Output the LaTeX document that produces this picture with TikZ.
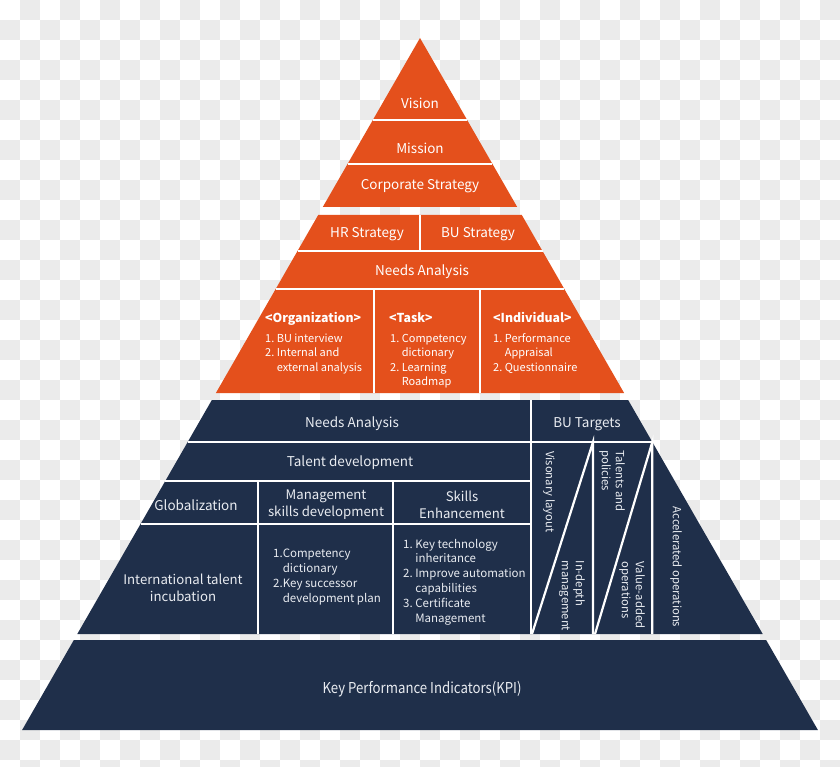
\documentclass[tikz,border=0pt]{standalone}
\usepackage{fontspec}
\setmainfont{Noto Sans CJK SC}
\definecolor{org}{HTML}{E4501C}
\definecolor{nav}{HTML}{1F2F4A}
\definecolor{chk}{HTML}{EBEBEB}
\definecolor{ntext}{HTML}{E9ECF1}
\tikzset{
  sepline/.style={white, line width=2.2pt},
  otext/.style={text=white, inner sep=0pt, font=\fontsize{13.5}{17}\selectfont},
  ohead/.style={text=white, inner sep=0pt, anchor=base west, font=\fontsize{12.3}{15}\selectfont\bfseries},
  olist/.style={text=white, inner sep=0pt, anchor=base west, align=left, font=\fontsize{11}{14.5}\selectfont},
  ntxt/.style={text=ntext, inner sep=0pt, align=center, font=\fontsize{13.5}{17}\selectfont},
  nsub/.style={text=ntext, inner sep=0pt, align=center, font=\fontsize{13.2}{17}\selectfont},
  nlist/.style={text=ntext, inner sep=0pt, anchor=base west, align=left, font=\fontsize{11.5}{14.8}\selectfont},
  nrot/.style={text=ntext, inner sep=0pt, rotate=-90, align=left, font=\fontsize{11.3}{14}\selectfont},
  kpitext/.style={text=ntext, inner sep=0pt, xscale=0.88, font=\fontsize{15}{18}\selectfont},
}
\begin{document}
\begin{tikzpicture}[x=1pt,y=-1pt]
\clip (0,0) rectangle (840,767);
\fill[white] (0,0) rectangle (840,767);
\foreach \i in {0,...,41}{
  \foreach \j in {0,...,38}{
    \pgfmathtruncatemacro\p{mod(\i+\j,2)}
    \ifnum\p=1 \fill[chk] (\i*20,\j*20) rectangle ++(20,20); \fi
  }
}
% ---------- orange top triangle ----------
\fill[org] (420,38) -- (517.2,207) -- (322.8,207) -- cycle;
\draw[sepline] (372.85,120) -- (467.15,120);
\draw[sepline] (347.55,164) -- (492.45,164);
% ---------- orange second block ----------
\fill[org] (318.2,215) -- (521.8,215) -- (624.1,393) -- (215.9,393) -- cycle;
\draw[sepline] (297.5,251) -- (542.5,251);
\draw[sepline] (275.7,289) -- (564.3,289);
\draw[sepline] (420,215) -- (420,251);
\draw[sepline] (374,289) -- (374,393);
\draw[sepline] (480,289) -- (480,393);
% ---------- navy block ----------
\fill[nav] (211.85,400) -- (628.15,400) -- (762.7,634) -- (77.3,634) -- cycle;
\draw[sepline] (187.7,442) -- (652.3,442);
\draw[sepline] (165.3,481) -- (531,481);
\draw[sepline] (140.55,524) -- (531,524);
\draw[sepline] (531,400) -- (531,634);
\draw[sepline] (258,481) -- (258,634);
\draw[sepline] (393,481) -- (393,634);
\draw[sepline] (532,634) -- (593,442) -- (593,634);
\draw[sepline] (595,634) -- (652.3,442) -- (652.3,634);
% ---------- KPI band ----------
\fill[nav] (73.85,640) -- (766.15,640) -- (817.9,730) -- (22.1,730) -- cycle;
% ---------- orange texts ----------
\node[otext] (vision) at (420,103) {Vision};
\node[otext] (mission) at (420,148) {Mission};
\node[otext] (corp) at (420,186) {Corporate Strategy};
\node[otext] (hr) at (367,234) {HR Strategy};
\node[otext] (bus) at (478,234) {BU Strategy};
\node[otext] (needso) at (422,272) {Needs Analysis};
\node[ohead] (orgh) at (265,322.5) {<Organization>};
\node[olist] (orgl) at (265,371) {1.~BU interview\\2.~Internal and\\\phantom{2.~}external analysis};
\node[ohead] (taskh) at (389,322.5) {<Task>};
\node[olist] (taskl) at (390,385.5) {1.~Competency\\\phantom{1.~}dictionary\\2.~Learning\\\phantom{2.~}Roadmap};
\node[ohead] (indh) at (493,322.5) {<Individual>};
\node[olist] (indl) at (493,371) {1.~Performance\\\phantom{1.~}Appraisal\\2.~Questionnaire};
% ---------- navy texts ----------
\node[ntxt] (needsn) at (352,424) {Needs Analysis};
\node[ntxt] (butarg) at (587,424) {BU Targets};
\node[ntxt] (talent) at (350,463) {Talent development};
\node[ntxt] (glob) at (196,505) {Globalization};
\node[nsub] (mgmt) at (326,505) {Management\\skills development};
\node[nsub] (skills) at (462,505) {Skills\\Enhancement};
\node[nsub] (intl) at (183,588) {International talent\\incubation};
\node[nlist] (compl) at (273,602) {1.Competency\\\phantom{1.}dictionary\\2.Key successor\\\phantom{2.}development plan};
\node[nlist] (keyl) at (403,622) {1.~Key technology\\\phantom{1.~}inheritance\\2.~Improve automation\\\phantom{2.~}capabilities\\3.~Certificate\\\phantom{3.~}Management};
\node[nrot] (vis) at (549,492) {Visonary layout};
\node[nrot] (indepth) at (572,596) {In-depth\\management};
\node[nrot] (talpol) at (612,481) {Talents and\\policies};
\node[nrot] (valadd) at (632,595) {Value-added\\operations};
\node[nrot] (accel) at (676,567) {Accelerated operations};
\node[kpitext] (kpi) at (422,689) {Key Performance Indicators(KPI)};
\end{tikzpicture}
\end{document}
